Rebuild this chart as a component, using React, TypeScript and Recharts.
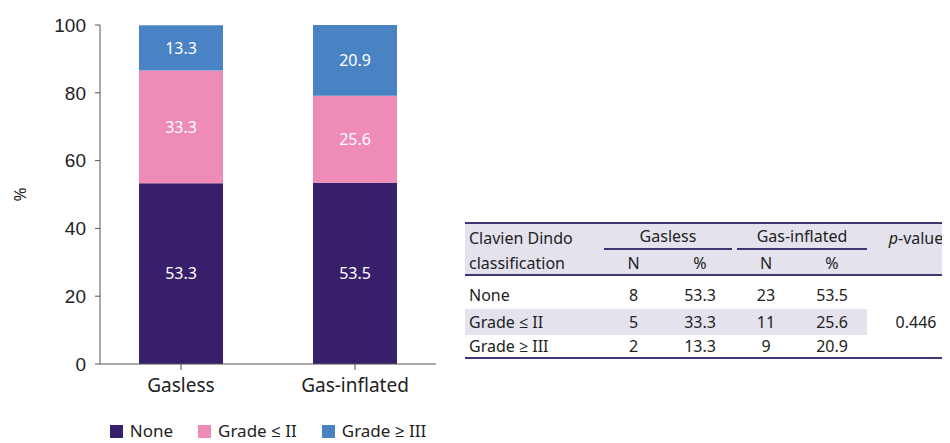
import React from "react";
import { BarChart, Bar, XAxis, YAxis, Legend, LabelList } from "recharts";

const categories = ["Gasless", "Gas-inflated"];
const noneValues = [53.3, 53.5];
const gradeLowValues = [33.3, 25.6];
const gradeHighValues = [13.3, 20.9];
const yTicks = [0, 20, 40, 60, 80, 100];

const tableRows = ["None", "Grade ≤ II", "Grade ≥ III"];
const gaslessN = [8, 5, 2];
const gasInflatedN = [23, 11, 9];
const pValue = "0.446";

const series = [
  { key: "none", name: "None", color: "#371F6B", values: noneValues },
  { key: "low", name: "Grade ≤ II", color: "#EE8BB6", values: gradeLowValues },
  { key: "high", name: "Grade ≥ III", color: "#4A83C4", values: gradeHighValues },
];

const SANS = "'Noto Sans', 'Open Sans', sans-serif";
const BORDER = "#3F3774";
const SHADE = "#E4E2ED";

function LegendContent() {
  return (
    <div style={{ display: "flex", justifyContent: "center", fontFamily: SANS, fontSize: 17, color: "#222", lineHeight: "24px", height: 24 }}>
      {series.map((s, i) => (
        <div key={s.key} style={{ display: "flex", alignItems: "center", marginLeft: i ? 25 : 0 }}>
          <span style={{ width: 13, height: 13, background: s.color, marginRight: 7 }} />
          <span>{s.name}</span>
        </div>
      ))}
    </div>
  );
}

function ResultTable() {
  const cell: React.CSSProperties = { padding: 0, textAlign: "center", fontWeight: 400 };
  const pctGas = [noneValues[0], gradeLowValues[0], gradeHighValues[0]];
  const pctInf = [noneValues[1], gradeLowValues[1], gradeHighValues[1]];
  const rowHeights = [34, 26, 22];
  return (
    <table
      style={{
        position: "absolute", left: 465, top: 222, borderCollapse: "collapse", tableLayout: "fixed",
        fontFamily: SANS, fontSize: 16, color: "#222", width: 500,
      }}
    >
      <colgroup>
        <col style={{ width: 137 }} />
        <col style={{ width: 63 }} />
        <col style={{ width: 70 }} />
        <col style={{ width: 62 }} />
        <col style={{ width: 70 }} />
        <col style={{ width: 98 }} />
      </colgroup>
      <thead style={{ background: SHADE }}>
        <tr style={{ height: 28, borderTop: `2px solid ${BORDER}` }}>
          <th style={{ ...cell, textAlign: "left", paddingLeft: 4 }}>Clavien Dindo</th>
          <th colSpan={2} style={cell}>
            <div style={{ borderBottom: `2px solid ${BORDER}`, margin: "0 3px 0 2px", paddingBottom: 1 }}>Gasless</div>
          </th>
          <th colSpan={2} style={cell}>
            <div style={{ borderBottom: `2px solid ${BORDER}`, margin: "0 0 0 2px", paddingBottom: 1 }}>Gas-inflated</div>
          </th>
          <th style={cell}><i>p</i>-value</th>
        </tr>
        <tr style={{ height: 24, borderBottom: `2px solid ${BORDER}` }}>
          <th style={{ ...cell, textAlign: "left", paddingLeft: 4 }}>classification</th>
          <th style={cell}>N</th>
          <th style={cell}>%</th>
          <th style={cell}>N</th>
          <th style={cell}>%</th>
          <th style={cell} />
        </tr>
      </thead>
      <tbody>
        {tableRows.map((r, i) => (
          <tr key={r} style={{ height: rowHeights[i], borderBottom: i === 2 ? `2px solid ${BORDER}` : undefined }}>
            <td style={{ ...cell, textAlign: "left", paddingLeft: 4, background: i === 1 ? SHADE : undefined, paddingTop: i === 0 ? 4 : 0 }}>{r}</td>
            <td style={{ ...cell, background: i === 1 ? SHADE : undefined, paddingTop: i === 0 ? 4 : 0 }}>{gaslessN[i]}</td>
            <td style={{ ...cell, background: i === 1 ? SHADE : undefined, paddingTop: i === 0 ? 4 : 0 }}>{pctGas[i].toFixed(1)}</td>
            <td style={{ ...cell, background: i === 1 ? SHADE : undefined, paddingTop: i === 0 ? 4 : 0 }}>{gasInflatedN[i]}</td>
            <td style={{ ...cell, background: i === 1 ? SHADE : undefined, paddingTop: i === 0 ? 4 : 0 }}>{pctInf[i].toFixed(1)}</td>
            <td style={cell}>{i === 1 ? pValue : ""}</td>
          </tr>
        ))}
      </tbody>
    </table>
  );
}

export default function App() {
  const data = categories.map((c, i) => {
    const row: Record<string, string | number> = { name: c };
    for (const s of series) row[s.key] = s.values[i];
    return row;
  });

  return (
    <div style={{ position: "relative", width: 950, height: 443, margin: "-8px 0 0 -8px", overflow: "hidden", background: "#fff" }}>
      <BarChart width={460} height={443} data={data} margin={{ top: 25, right: 24, bottom: 0, left: 0 }}>
        <XAxis
          dataKey="name"
          padding={{ left: -6, right: -6 }}
          axisLine={{ stroke: "#555" }}
          tickLine={{ stroke: "#555" }}
          tickSize={6}
          tickMargin={9}
          height={55}
          tick={{ fontSize: 19, fill: "#222", fontFamily: SANS }}
        />
        <YAxis
          width={100}
          domain={[0, 100]}
          ticks={yTicks}
          axisLine={{ stroke: "#555" }}
          tickLine={{ stroke: "#555" }}
          tickSize={5}
          tickMargin={9}
          tick={{ fontSize: 19, fill: "#222", fontFamily: "'Liberation Sans', Arial, sans-serif" }}
          label={{ value: "%", angle: -90, position: "center", dx: -30, fontSize: 17, fill: "#222", fontFamily: SANS }}
        />
        <Legend
          verticalAlign="bottom"
          content={<LegendContent />}
          height={24}
          wrapperStyle={{ left: 100, width: 336 }}
        />
        {series.map((s) => (
          <Bar key={s.key} dataKey={s.key} name={s.name} stackId="a" fill={s.color} barSize={84} isAnimationActive={false}>
            <LabelList dataKey={s.key} position="center" fill="#fff" fontSize={16} fontFamily={SANS} formatter={(v: any) => Number(v).toFixed(1)} />
          </Bar>
        ))}
      </BarChart>
      <ResultTable />
    </div>
  );
}
